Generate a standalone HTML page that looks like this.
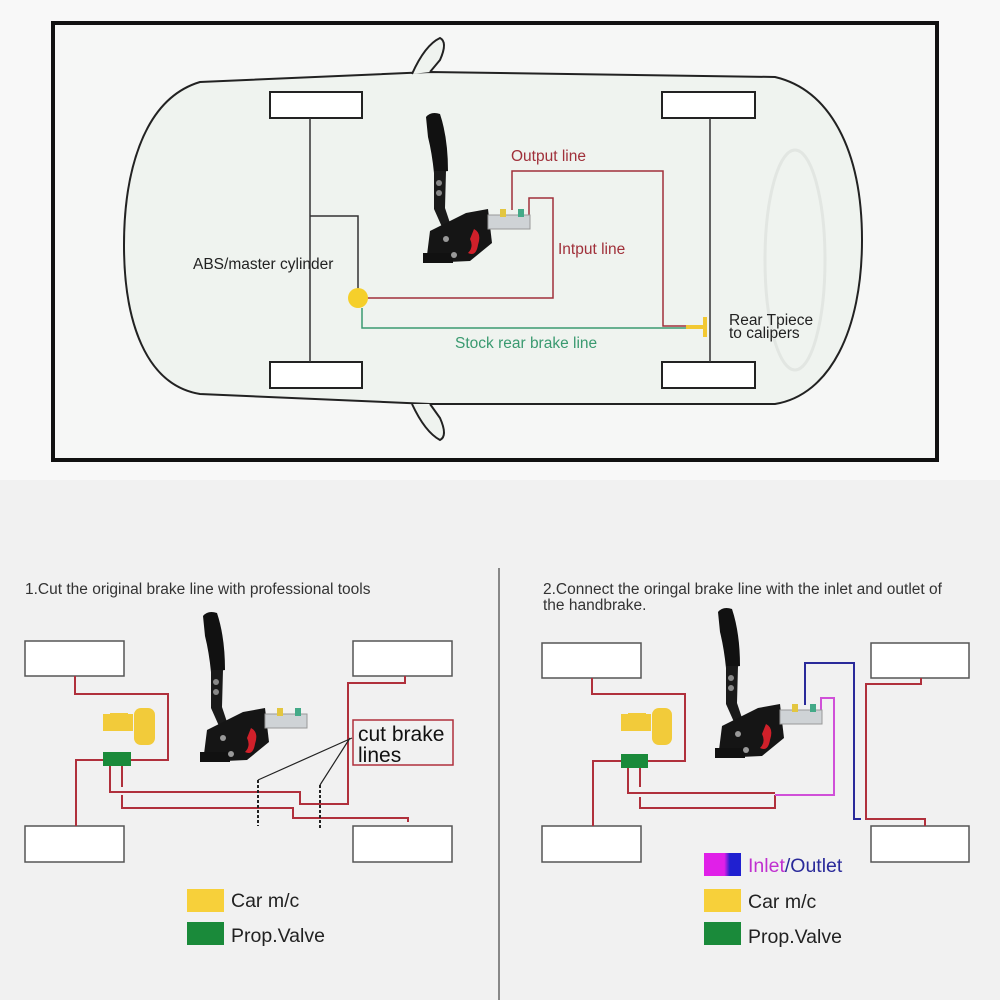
<!DOCTYPE html>
<html><head><meta charset="utf-8"><style>
html,body{margin:0;padding:0;background:#fff;}
svg{display:block;font-family:"Liberation Sans",sans-serif;}
</style></head><body>
<svg width="1000" height="1000" viewBox="0 0 1000 1000" xmlns="http://www.w3.org/2000/svg">
<defs>
<g id="hb">
  <path d="M0,4 Q5,-2 14,1 Q22,25 22,58 L8,60 Q6,40 2,24 Z" fill="#111"/>
  <path d="M8,58 L20,58 L19,95 L24,110 L16,114 L8,96 Z" fill="#1a1a1a"/>
  <circle cx="13" cy="70" r="3" fill="#888"/><circle cx="13" cy="80" r="3" fill="#888"/>
  <path d="M4,118 L40,100 L62,96 L66,130 L44,148 L0,150 Z" fill="#151515"/>
  <rect x="-3" y="140" width="30" height="10" fill="#111"/>
  <path d="M48,116 Q56,120 52,132 Q50,144 42,140 Q48,134 44,126 Z" fill="#d0202a"/>
  <rect x="62" y="102" width="42" height="14" fill="#cfd3d6" stroke="#999" stroke-width="1"/>
  <circle cx="28" cy="142" r="3" fill="#999"/><circle cx="20" cy="126" r="3" fill="#999"/>
  <rect x="74" y="96" width="6" height="8" fill="#e3c640"/><rect x="92" y="96" width="6" height="8" fill="#4a8"/>
</g>
<linearGradient id="io" x1="0" y1="0" x2="1" y2="0"><stop offset="0.55" stop-color="#e020e8"/><stop offset="0.7" stop-color="#2020d0"/></linearGradient>
</defs>
<rect width="1000" height="1000" fill="#f8f8f8"/>
<rect x="0" y="480" width="1000" height="520" fill="#f1f1f1"/>
<rect x="53" y="23" width="884" height="437" fill="#f6f7f6" stroke="#111" stroke-width="4"/>
<path d="M200,82 C140,100 124,180 124,245 C124,320 145,385 200,394 L430,404 L775,404 C830,395 862,330 862,240 C862,150 830,90 775,77 L430,72 Z" fill="#eff3ef" stroke="#222" stroke-width="2"/>
<path d="M412,74 Q425,45 440,38 Q448,42 440,60 L430,72" fill="#eff3ef" stroke="#222" stroke-width="2"/>
<path d="M412,404 Q425,432 440,440 Q448,436 440,418 L430,404" fill="#eff3ef" stroke="#222" stroke-width="2"/>
<ellipse cx="795" cy="260" rx="30" ry="110" fill="none" stroke="#e2e6e2" stroke-width="3"/>
<g fill="#fff" stroke="#222" stroke-width="2">
<rect x="270" y="92" width="92" height="26"/><rect x="270" y="362" width="92" height="26"/>
<rect x="662" y="92" width="93" height="26"/><rect x="662" y="362" width="93" height="26"/>
</g>
<g fill="none" stroke="#333" stroke-width="1.5">
<path d="M310,118 V362"/><path d="M710,118 V362"/><path d="M310,216 H358 V298"/>
</g>
<g fill="none" stroke="#a0303a" stroke-width="1.5">
<path d="M366,298 H553 V198 H529 V215"/>
<path d="M512,210 V171 H663 V326 H695"/>
</g>
<path d="M362,308 V328 H688" fill="none" stroke="#3a9a70" stroke-width="1.5"/>
<path d="M686,327 H705 M705,317 V337" stroke="#f2c832" stroke-width="4"/>
<circle cx="358" cy="298" r="10" fill="#f5cf2a"/>
<use href="#hb" x="426" y="113"/>
<g font-size="15.5">
<text x="193" y="269" fill="#222">ABS/master cylinder</text>
<text x="511" y="161" fill="#a0303a">Output line</text>
<text x="558" y="254" fill="#a0303a">Intput line</text>
<text x="455" y="348" fill="#3a9a70">Stock rear brake line</text>
<text x="729" y="325" fill="#222">Rear Tpiece</text>
<text x="729" y="338" fill="#222">to calipers</text>
</g>
<path d="M499,568 V1000" stroke="#666" stroke-width="1.5"/>
<text x="25" y="594" font-size="15.5" fill="#333">1.Cut the original brake line with professional tools</text>
<g fill="#fff" stroke="#555" stroke-width="1.5">
<rect x="25" y="641" width="99" height="35"/><rect x="25" y="826" width="99" height="36"/>
<rect x="353" y="641" width="99" height="35"/><rect x="353" y="826" width="99" height="36"/>
</g>
<g fill="none" stroke="#b0303c" stroke-width="2">
<path d="M75,676 V694 H168 V760 H130"/>
<path d="M103,760 H76 V826"/>
<path d="M110,766 V792 H300 V804 H348 V683 H405 V676"/>
<path d="M122,766 V787 M122,795 V808 H293 V818 H408 V822"/>
</g>
<rect x="353" y="720" width="100" height="45" fill="none" stroke="#b0303c" stroke-width="1.5"/>
<text x="358" y="741" font-size="21" fill="#111">cut brake</text>
<text x="358" y="762" font-size="21" fill="#111">lines</text>
<path d="M258,780 L352,738 M320,785 L350,738" stroke="#222" stroke-width="1.2"/>
<path d="M258,780 V826 M320,785 V830" stroke="#222" stroke-width="2" stroke-dasharray="3,2"/>
<rect x="103" y="714" width="30" height="17" fill="#f2cb3a"/><rect x="110" y="713" width="18" height="5" fill="#f2cb3a"/>
<rect x="134" y="708" width="21" height="37" rx="7" fill="#f2cb3a"/>
<rect x="103" y="752" width="28" height="14" fill="#1a8a3a"/>
<use href="#hb" x="203" y="612"/>
<rect x="187" y="889" width="37" height="23" fill="#f7d03a"/>
<rect x="187" y="922" width="37" height="23" fill="#1a8a3a"/>
<text x="231" y="907" font-size="19.5" fill="#222">Car m/c</text>
<text x="231" y="942" font-size="19.5" fill="#222">Prop.Valve</text>
<text x="543" y="594" font-size="15.5" fill="#333">2.Connect the oringal brake line with the inlet and outlet of</text>
<text x="543" y="610" font-size="15.5" fill="#333">the handbrake.</text>
<g fill="#fff" stroke="#555" stroke-width="1.5">
<rect x="542" y="643" width="99" height="35"/><rect x="542" y="826" width="99" height="36"/>
<rect x="871" y="643" width="98" height="35"/><rect x="871" y="826" width="98" height="36"/>
</g>
<g fill="none" stroke="#b0303c" stroke-width="2">
<path d="M592,678 V694 H685 V761 H648"/>
<path d="M621,761 H593 V826"/>
<path d="M628,768 V793 H775"/>
<path d="M640,768 V787 M640,797 V808 H775 V795"/>
<path d="M921,678 V684 H866 V819 H925 V826"/>
</g>
<path d="M775,795 H834 V698 H821 V713" fill="none" stroke="#d050d8" stroke-width="2"/>
<path d="M805,705 V663 H854 V819 H861" fill="none" stroke="#2a2a9a" stroke-width="2"/>
<rect x="621" y="714" width="30" height="17" fill="#f2cb3a"/><rect x="628" y="713" width="18" height="5" fill="#f2cb3a"/>
<rect x="652" y="708" width="20" height="37" rx="7" fill="#f2cb3a"/>
<rect x="621" y="754" width="27" height="14" fill="#1a8a3a"/>
<use href="#hb" x="718" y="608"/>
<rect x="704" y="853" width="37" height="23" fill="url(#io)"/>
<rect x="704" y="889" width="37" height="23" fill="#f7d03a"/>
<rect x="704" y="922" width="37" height="23" fill="#1a8a3a"/>
<text x="748" y="872" font-size="19.5"><tspan fill="#c030d0">Inlet</tspan><tspan fill="#2a2a9a">/Outlet</tspan></text>
<text x="748" y="908" font-size="19.5" fill="#222">Car m/c</text>
<text x="748" y="943" font-size="19.5" fill="#222">Prop.Valve</text>
</svg>
</body></html>
